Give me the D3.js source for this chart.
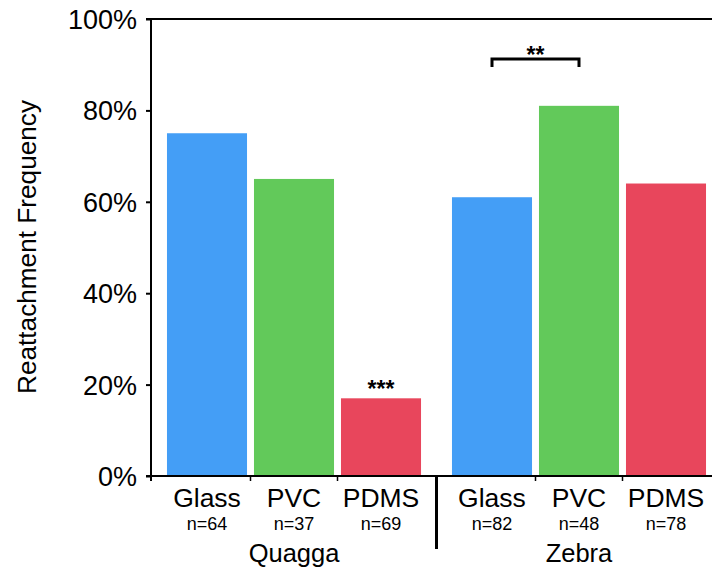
<!DOCTYPE html>
<html>
<head>
<meta charset="utf-8">
<script src="https://cdn.jsdelivr.net/npm/d3@7"></script>
<style>
  html, body { margin: 0; padding: 0; background: #fff; }
  svg { display: block; font-family: "Liberation Sans", Arial, Helvetica, sans-serif; }
</style>
</head>
<body>
<svg id="chart" width="712" height="570"></svg>
<script>
// ---- data ----
const groups = ["Quagga", "Zebra"];
const materials = ["Glass", "PVC", "PDMS"];
const quaggaValues = [0.75, 0.65, 0.17];
const zebraValues = [0.61, 0.81, 0.64];
const quaggaN = ["n=64", "n=37", "n=69"];
const zebraN = ["n=82", "n=48", "n=78"];
const yTicks = [0, 0.2, 0.4, 0.6, 0.8, 1.0];
const colors = ["#449ef6", "#62c95a", "#e8465c"];

const rows = [];
groups.forEach((g, gi) => {
  const vals = gi === 0 ? quaggaValues : zebraValues;
  const ns = gi === 0 ? quaggaN : zebraN;
  materials.forEach((m, mi) => rows.push({ group: g, material: m, value: vals[mi], n: ns[mi], ci: mi }));
});

const svg = d3.select("#chart");
const axisX = 151, axisBottom = 476, axisTop = 19, rightEdge = 712;

const y = d3.scaleLinear().domain([0, 1]).range([axisBottom, axisTop]);
const xg = d3.scaleBand().domain(groups).range([163.5, 709.5]).paddingInner(0.0842).paddingOuter(0);
const xm = d3.scaleBand().domain(materials).range([0, xg.bandwidth()]).paddingInner(0.08).paddingOuter(0.04);

// bars
svg.append("g").selectAll("rect").data(rows).join("rect")
  .attr("x", d => xg(d.group) + xm(d.material))
  .attr("width", xm.bandwidth())
  .attr("y", d => y(d.value))
  .attr("height", d => y(0) - y(d.value))
  .attr("fill", d => colors[d.ci]);

// y axis
const yAxis = d3.axisLeft(y).tickValues(yTicks).tickFormat(d3.format(".0%")).tickSize(5).tickSizeOuter(0).tickPadding(9);
const ya = svg.append("g").attr("transform", `translate(${axisX},0)`).call(yAxis);
ya.select(".domain").remove();
ya.selectAll(".tick line").attr("stroke", "#000").attr("stroke-width", 2);
ya.selectAll(".tick text").attr("font-size", 27).attr("fill", "#000").attr("dy", "0.35em")
  .attr("font-family", "'Liberation Sans', Arial, sans-serif");

// axis lines
svg.append("line").attr("x1", axisX).attr("x2", axisX).attr("y1", axisTop).attr("y2", axisBottom + 5)
  .attr("stroke", "#000").attr("stroke-width", 2);
svg.append("line").attr("x1", axisX - 5).attr("x2", rightEdge).attr("y1", y(1)).attr("y2", y(1))
  .attr("stroke", "#000").attr("stroke-width", 2);
svg.append("line").attr("x1", axisX - 5).attr("x2", rightEdge).attr("y1", y(0)).attr("y2", y(0))
  .attr("stroke", "#000").attr("stroke-width", 2);

// x ticks between materials
groups.forEach(g => {
  [1, 2].forEach(k => {
    const xx = xg(g) + xm.step() * k;
    svg.append("line").attr("x1", xx).attr("x2", xx).attr("y1", axisBottom).attr("y2", axisBottom + 5)
      .attr("stroke", "#000").attr("stroke-width", 1.5);
  });
});

// group divider
const divX = (xg("Quagga") + xg.bandwidth() + xg("Zebra")) / 2;
svg.append("line").attr("x1", divX).attr("x2", divX).attr("y1", axisBottom).attr("y2", 549)
  .attr("stroke", "#000").attr("stroke-width", 3);

// category labels
const lab = svg.append("g");
lab.selectAll("text.mat").data(rows).join("text").attr("class", "mat")
  .attr("x", d => xg(d.group) + xm(d.material) + xm.bandwidth() / 2)
  .attr("y", 507).attr("text-anchor", "middle").attr("font-size", 26.5).attr("fill", "#000")
  .text(d => d.material);
lab.selectAll("text.n").data(rows).join("text").attr("class", "n")
  .attr("x", d => xg(d.group) + xm(d.material) + xm.bandwidth() / 2)
  .attr("y", 530).attr("text-anchor", "middle").attr("font-size", 18).attr("fill", "#000")
  .text(d => d.n);
lab.selectAll("text.grp").data(groups).join("text").attr("class", "grp")
  .attr("x", d => xg(d) + xg.bandwidth() / 2)
  .attr("y", 562).attr("text-anchor", "middle").attr("font-size", 25.5).attr("fill", "#000")
  .text(d => d);

// y title
svg.append("text").attr("transform", "translate(36,247) rotate(-90)")
  .attr("text-anchor", "middle").attr("font-size", 26.2).attr("fill", "#000")
  .text("Reattachment Frequency");

// significance: *** over Quagga PDMS
const qp = rows.find(d => d.group === "Quagga" && d.material === "PDMS");
svg.append("text")
  .attr("x", xg(qp.group) + xm(qp.material) + xm.bandwidth() / 2)
  .attr("y", y(qp.value) - 1).attr("text-anchor", "middle")
  .attr("font-size", 23).attr("font-weight", "bold").attr("fill", "#000").text("***");

// bracket ** between Zebra Glass and PVC
const bx1 = xg("Zebra") + xm("Glass") + xm.bandwidth() / 2;
const bx2 = xg("Zebra") + xm("PVC") + xm.bandwidth() / 2;
const by = 59;
svg.append("path")
  .attr("d", `M${bx1},${by + 8}V${by}H${bx2}V${by + 8}`)
  .attr("fill", "none").attr("stroke", "#000").attr("stroke-width", 3);
svg.append("text").attr("x", (bx1 + bx2) / 2).attr("y", 63).attr("text-anchor", "middle")
  .attr("font-size", 23).attr("font-weight", "bold").attr("fill", "#000").text("**");
</script>
</body>
</html>
